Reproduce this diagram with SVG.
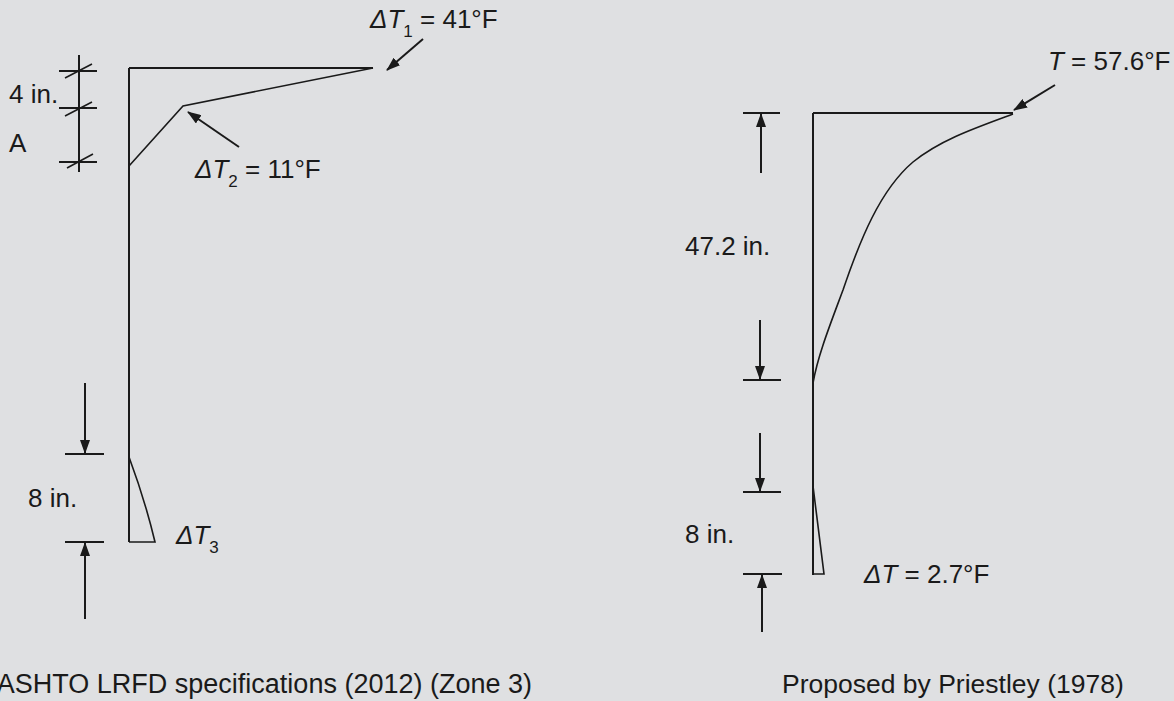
<svg xmlns="http://www.w3.org/2000/svg" width="1174" height="701" viewBox="0 0 1174 701">
<defs>
<marker id="ah" markerWidth="14" markerHeight="10" refX="13" refY="5" orient="auto" markerUnits="userSpaceOnUse">
<path d="M0,0 L14,5 L0,10 Z" fill="#1a1a1a"/>
</marker>
<style>
.ln{stroke:#1a1a1a;stroke-width:2;fill:none}
.th{stroke:#1a1a1a;stroke-width:1.6;fill:none}
.ar{stroke:#1a1a1a;stroke-width:2;fill:none;marker-end:url(#ah)}
.t{font-family:"Liberation Sans",Arial,sans-serif;font-size:26px;fill:#1a1a1a}
.i{font-style:italic}
.s{font-size:17px}
</style>
</defs>
<rect width="1174" height="701" fill="#dfe0e2"/>

<g id="left-profile">
<path class="ln" d="M129,68 V542"/>
<path class="ln" d="M129,68 H373"/>
<path class="th" d="M373,68 L183,106 L129,166"/>
<path class="th" d="M129,457 Q145,500 155,542 H129"/>
</g>

<g id="left-dimensions">
<path class="ln" d="M79,55 V172"/>
<path class="ln" d="M59,71 H97 M59,108 H97 M59,162 H97"/>
<path class="th" d="M65,78 L92,64 M65,116 L92,102 M67,168 L93,154"/>
<path class="ln" d="M65,454 H104 M65,542 H104"/>
</g>

<g id="left-labels">
<text class="t" x="9" y="103">4 in.</text>
<text class="t" x="9" y="152">A</text>
<text class="t" x="28" y="507">8 in.</text>
<text class="t" x="370" y="28"><tspan class="i">ΔT</tspan><tspan class="s" dy="9">1</tspan><tspan dy="-9"> = 41°F</tspan></text>
<text class="t" x="195" y="178"><tspan class="i">ΔT</tspan><tspan class="s" dy="9">2</tspan><tspan dy="-9"> = 11°F</tspan></text>
<text class="t" x="176" y="544"><tspan class="i">ΔT</tspan><tspan class="s" dy="9">3</tspan></text>
<text class="t" x="532" y="693" text-anchor="end" style="font-size:27px">AASHTO LRFD specifications (2012) (Zone 3)</text>
</g>

<g id="right-profile">
<path class="ln" d="M813,113 V575"/>
<path class="ln" d="M813,113 H1013"/>
<path class="th" d="M1013,114 C975,128 940,140 913,162 C880,190 860,240 843,290 C830,325 818,355 813,383"/>
<path class="th" d="M813,486 L824,574 H813"/>
</g>

<g id="right-dimensions">
<path class="ln" d="M743,113 H780 M743,380 H781 M743,492 H781 M743,574 H782"/>
</g>

<g id="right-labels">
<text class="t" x="1048" y="70"><tspan class="i">T</tspan> = 57.6°F</text>
<text class="t" x="685" y="255">47.2 in.</text>
<text class="t" x="685" y="543">8 in.</text>
<text class="t" x="864" y="583"><tspan class="i">ΔT</tspan> = 2.7°F</text>
<text class="t" x="782" y="693" style="font-size:26.5px">Proposed by Priestley (1978)</text>
</g>

<g id="connectors">
<path class="ar" d="M423,39 L387,70"/>
<path class="ar" d="M239,147 L188,112"/>
<path class="ar" d="M85,383 V453"/>
<path class="ar" d="M85,619 V543"/>
<path class="ar" d="M1055,85 L1014,110"/>
<path class="ar" d="M761,173 V114"/>
<path class="ar" d="M760,320 V379"/>
<path class="ar" d="M760,433 V491"/>
<path class="ar" d="M762,632 V575"/>
</g>
</svg>
